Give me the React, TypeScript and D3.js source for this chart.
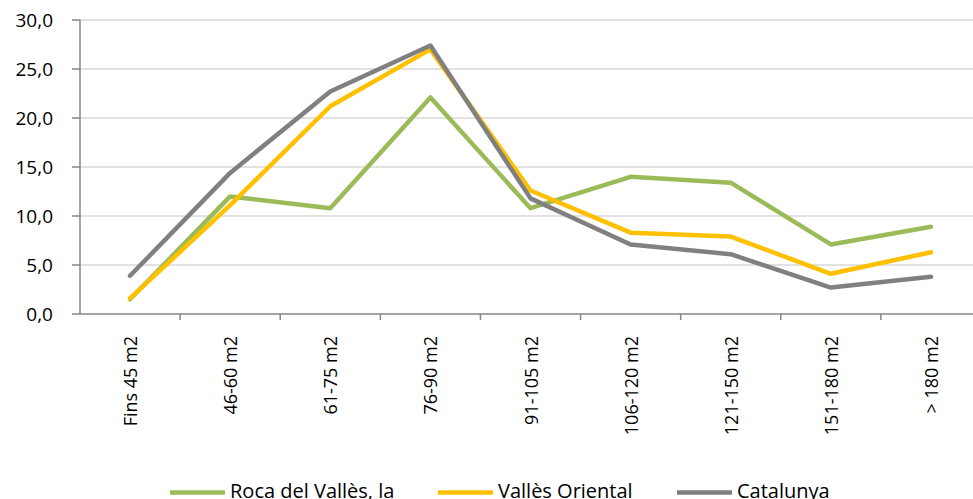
import React from "react";
import * as d3 from "d3";

const categories = ["Fins 45 m2", "46-60 m2", "61-75 m2", "76-90 m2", "91-105 m2", "106-120 m2", "121-150 m2", "151-180 m2", "> 180 m2"];
const roca = [1.5, 12.0, 10.8, 22.1, 10.8, 14.0, 13.4, 7.1, 8.9];
const vallesOriental = [1.6, 11.1, 21.2, 27.0, 12.6, 8.3, 7.9, 4.1, 6.3];
const catalunya = [3.9, 14.4, 22.7, 27.4, 11.8, 7.1, 6.1, 2.7, 3.8];
const yTicks = [0, 5, 10, 15, 20, 25, 30];
const seriesNames = ["Roca del Vallès, la", "Vallès Oriental", "Catalunya"];
const seriesColors = ["#9BBB59", "#FFC000", "#808080"];

const W = 973, H = 499;
const FONT = "'Open Sans', 'Liberation Sans', sans-serif";

export default function App() {
  const x = d3.scaleBand<string>().domain(categories).range([80, 981]);
  const y = d3.scaleLinear().domain([0, 30]).range([314, 20]);
  const line = d3.line<number>()
    .x((_, i) => (x(categories[i]) as number) + x.bandwidth() / 2)
    .y((d) => y(d));
  const all = [roca, vallesOriental, catalunya];
  const legendX = [170, 438, 677];
  return (
    <svg width={W} height={H} style={{ position: "absolute", left: 0, top: 0, background: "#fff" }} fontFamily={FONT}>
      {yTicks.map((t) => (
        <g key={t}>
          {t > 0 && <line x1={80} x2={W} y1={y(t)} y2={y(t)} stroke="#d9d9d9" strokeWidth={1.5} />}
          <line x1={72} x2={80} y1={y(t)} y2={y(t)} stroke="#868686" strokeWidth={1.5} />
          <text x={53} y={y(t)} dy="0.36em" textAnchor="end" fontSize={19} fill="#000">
            {d3.format(".1f")(t).replace(".", ",")}
          </text>
        </g>
      ))}
      <line x1={80} x2={80} y1={20} y2={314} stroke="#868686" strokeWidth={1.5} />
      <line x1={80} x2={W} y1={314} y2={314} stroke="#868686" strokeWidth={1.5} />
      {categories.map((c, i) => (
        <line key={"t" + i} x1={(x(c) as number) + x.bandwidth()} x2={(x(c) as number) + x.bandwidth()} y1={314} y2={320} stroke="#868686" strokeWidth={1.5} />
      ))}
      {categories.map((c) => {
        const cx = (x(c) as number) + x.bandwidth() / 2;
        return (
          <text key={c} transform={`translate(${cx + 7},336) rotate(-90)`} textAnchor="end" fontSize={18} fill="#000">
            {c}
          </text>
        );
      })}
      {all.map((s, i) => (
        <path key={i} d={line(s) || ""} fill="none" stroke={seriesColors[i]} strokeWidth={4.5} strokeLinejoin="round" strokeLinecap="round" />
      ))}
      {seriesNames.map((n, i) => (
        <g key={n}>
          <line x1={legendX[i]} x2={legendX[i] + 55} y1={492.5} y2={492.5} stroke={seriesColors[i]} strokeWidth={4.5} />
          <text x={legendX[i] + 60} y={497.5} fontSize={20} fill="#000">{n}</text>
        </g>
      ))}
    </svg>
  );
}
